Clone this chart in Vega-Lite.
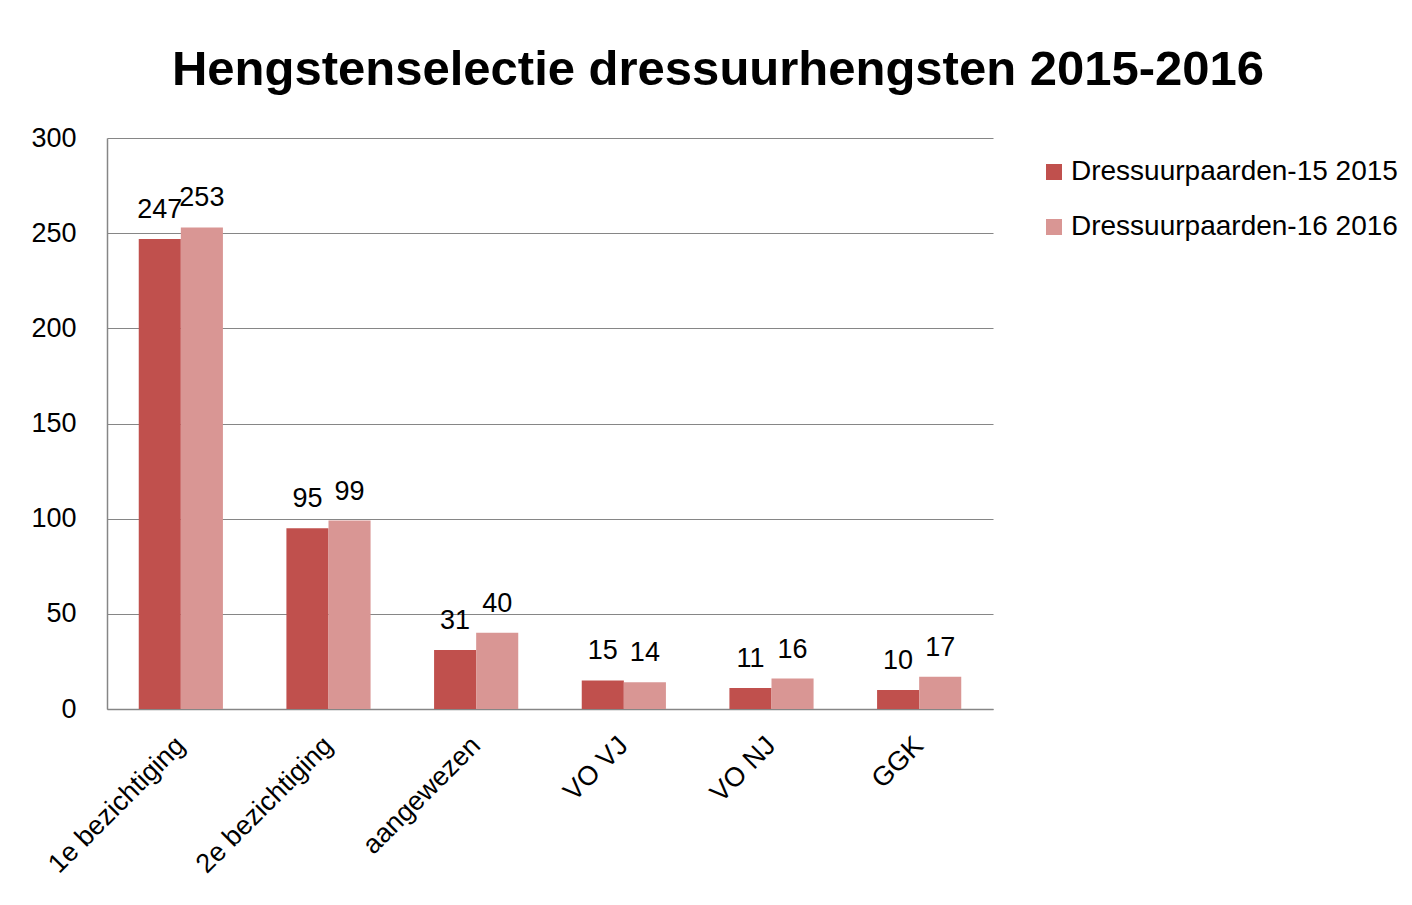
{
  "$schema": "https://vega.github.io/schema/vega-lite/v6.json",
  "width": 886,
  "height": 571,
  "autosize": {"type": "none"},
  "padding": {"left": 107, "top": 138, "right": 419, "bottom": 196},
  "background": "white",
  "title": {
    "text": "Hengstenselectie dressuurhengsten 2015-2016",
    "font": "Liberation Sans",
    "fontSize": 49,
    "fontWeight": "bold",
    "color": "#000000",
    "anchor": "middle",
    "dx": 168,
    "offset": -10,
    "baseline": "alphabetic"
  },
  "data": {
    "values": [
      {"cat": "1e bezichtiging", "series": "Dressuurpaarden-15 2015", "value": 247},
      {"cat": "1e bezichtiging", "series": "Dressuurpaarden-16 2016", "value": 253},
      {"cat": "2e bezichtiging", "series": "Dressuurpaarden-15 2015", "value": 95},
      {"cat": "2e bezichtiging", "series": "Dressuurpaarden-16 2016", "value": 99},
      {"cat": "aangewezen", "series": "Dressuurpaarden-15 2015", "value": 31},
      {"cat": "aangewezen", "series": "Dressuurpaarden-16 2016", "value": 40},
      {"cat": "VO VJ", "series": "Dressuurpaarden-15 2015", "value": 15},
      {"cat": "VO VJ", "series": "Dressuurpaarden-16 2016", "value": 14},
      {"cat": "VO NJ", "series": "Dressuurpaarden-15 2015", "value": 11},
      {"cat": "VO NJ", "series": "Dressuurpaarden-16 2016", "value": 16},
      {"cat": "GGK", "series": "Dressuurpaarden-15 2015", "value": 10},
      {"cat": "GGK", "series": "Dressuurpaarden-16 2016", "value": 17}
    ]
  },
  "encoding": {
    "x": {
      "field": "cat",
      "type": "nominal",
      "sort": null,
      "scale": {"paddingInner": 0.43, "paddingOuter": 0.215},
      "axis": {
        "title": null,
        "labelAngle": -45,
        "labelAlign": "right",
        "labelBaseline": "middle",
        "labelFont": "Liberation Sans",
        "labelFontSize": 27,
        "labelColor": "#000000",
        "labelPadding": 32,
        "labelLimit": 400,
        "ticks": false,
        "domainColor": "#868686",
        "domainWidth": 1.5,
        "grid": false
      }
    },
    "xOffset": {"field": "series", "type": "nominal", "sort": null},
    "y": {
      "field": "value",
      "type": "quantitative",
      "scale": {"domain": [0, 300]},
      "axis": {
        "title": null,
        "values": [0, 50, 100, 150, 200, 250, 300],
        "labelFont": "Liberation Sans",
        "labelFontSize": 27,
        "labelColor": "#000000",
        "labelPadding": 31,
        "ticks": false,
        "domainColor": "#868686",
        "domainWidth": 1.5,
        "grid": true,
        "gridColor": "#868686",
        "gridWidth": 1.2
      }
    }
  },
  "layer": [
    {
      "mark": {"type": "bar"},
      "encoding": {
        "color": {
          "field": "series",
          "type": "nominal",
          "scale": {
            "domain": ["Dressuurpaarden-15 2015", "Dressuurpaarden-16 2016"],
            "range": ["#C0504D", "#D99694"]
          },
          "legend": {
            "title": null,
            "orient": "none",
            "legendX": 933,
            "legendY": 20,
            "symbolType": "square",
            "symbolSize": 256,
            "symbolStrokeWidth": 0,
            "labelFont": "Liberation Sans",
            "labelFontSize": 28,
            "labelColor": "#000000",
            "labelOffset": 3,
            "rowPadding": 27,
            "labelLimit": 500
          }
        }
      }
    },
    {
      "mark": {
        "type": "text",
        "baseline": "alphabetic",
        "dy": -21,
        "font": "Liberation Sans",
        "fontSize": 27,
        "color": "#000000"
      },
      "encoding": {"text": {"field": "value", "type": "quantitative"}}
    }
  ],
  "config": {"view": {"stroke": null}}
}
